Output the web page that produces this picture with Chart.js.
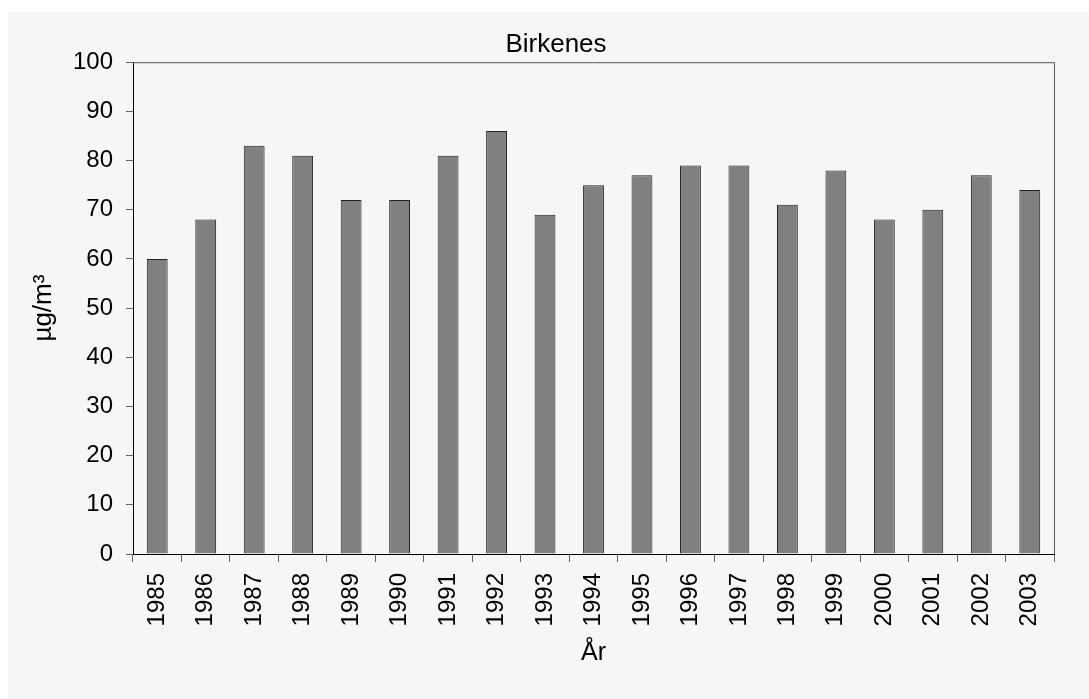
<!DOCTYPE html>
<html>
<head>
<meta charset="utf-8">
<script src="https://cdn.jsdelivr.net/npm/chart.js@4/dist/chart.umd.min.js"></script>
<style>
  html, body { margin: 0; padding: 0; background: #ffffff; }
  #wrap { position: absolute; left: 8px; top: 12px; width: 1081px; height: 687px; background: #f6f6f6; }
  canvas { display: block; }
</style>
</head>
<body>
<div id="wrap"><canvas id="c" width="1081" height="687"></canvas></div>
<script>
const years = ['1985','1986','1987','1988','1989','1990','1991','1992','1993','1994','1995','1996','1997','1998','1999','2000','2001','2002','2003'];
const values = [60, 68, 83, 81, 72, 72, 81, 86, 69, 75, 77, 79, 79, 71, 78, 68, 70, 77, 74];
const yTicks = [0, 10, 20, 30, 40, 50, 60, 70, 80, 90, 100];
const titleText = 'Birkenes';
const xTitle = 'År';
const yTitle = 'µg/m³';

const FONT = '"Liberation Sans", Arial, sans-serif';

const boxPlugin = {
  id: 'box',
  afterDatasetsDraw(chart) {
    const a = chart.chartArea, ctx = chart.ctx;
    ctx.save();
    ctx.strokeStyle = '#555555';
    ctx.lineWidth = 1;
    ctx.beginPath();
    ctx.moveTo(a.left, a.top + 0.5);
    ctx.lineTo(a.right + 0.5, a.top + 0.5);
    ctx.lineTo(a.right + 0.5, a.bottom);
    ctx.stroke();
    ctx.restore();
  }
};

new Chart(document.getElementById('c'), {
  type: 'bar',
  data: {
    labels: years,
    datasets: [{
      data: values,
      backgroundColor: '#808080',
      borderColor: '#222222',
      borderWidth: 1,
      barPercentage: 0.43,
      categoryPercentage: 1.0
    }]
  },
  options: {
    responsive: false,
    animation: false,
    devicePixelRatio: 1,
    layout: { padding: { left: 20, right: 5, top: 0, bottom: 31 } },
    plugins: {
      legend: { display: false },
      tooltip: { enabled: false },
      title: {
        display: true,
        text: titleText,
        color: '#000000',
        font: { family: FONT, size: 26, weight: 'normal' },
        padding: { top: 17, bottom: 2 }
      }
    },
    scales: {
      x: {
        offset: true,
        grid: { display: true, drawOnChartArea: false, drawTicks: true, tickLength: 8, color: '#666666', offset: true },
        border: { display: true, color: '#000000', width: 1 },
        ticks: { color: '#000000', font: { family: FONT, size: 24 }, minRotation: 90, maxRotation: 90, padding: 11, autoSkip: false },
        title: { display: true, text: xTitle, color: '#000000', font: { family: FONT, size: 25 }, padding: { top: 4, bottom: 0 } },
        afterFit(scale) { scale.height = 114; }
      },
      y: {
        min: 0, max: 100,
        afterBuildTicks(scale) { scale.ticks = yTicks.map(v => ({ value: v })); },
        grid: { display: true, drawOnChartArea: false, drawTicks: true, tickLength: 7, color: '#666666' },
        border: { display: true, color: '#000000', width: 1 },
        ticks: { color: '#000000', font: { family: FONT, size: 24 }, padding: 13 },
        title: { display: true, text: yTitle, color: '#000000', font: { family: FONT, size: 26 }, padding: { top: 0, bottom: 4 } },
        afterFit(scale) { scale.width = 105; }
      },
      yR: {
        position: 'right',
        display: true,
        grid: { display: false, drawTicks: false },
        border: { display: false },
        ticks: { display: false },
        afterFit(scale) { scale.width = 30; }
      }
    }
  },
  plugins: [boxPlugin]
});
</script>
</body>
</html>
